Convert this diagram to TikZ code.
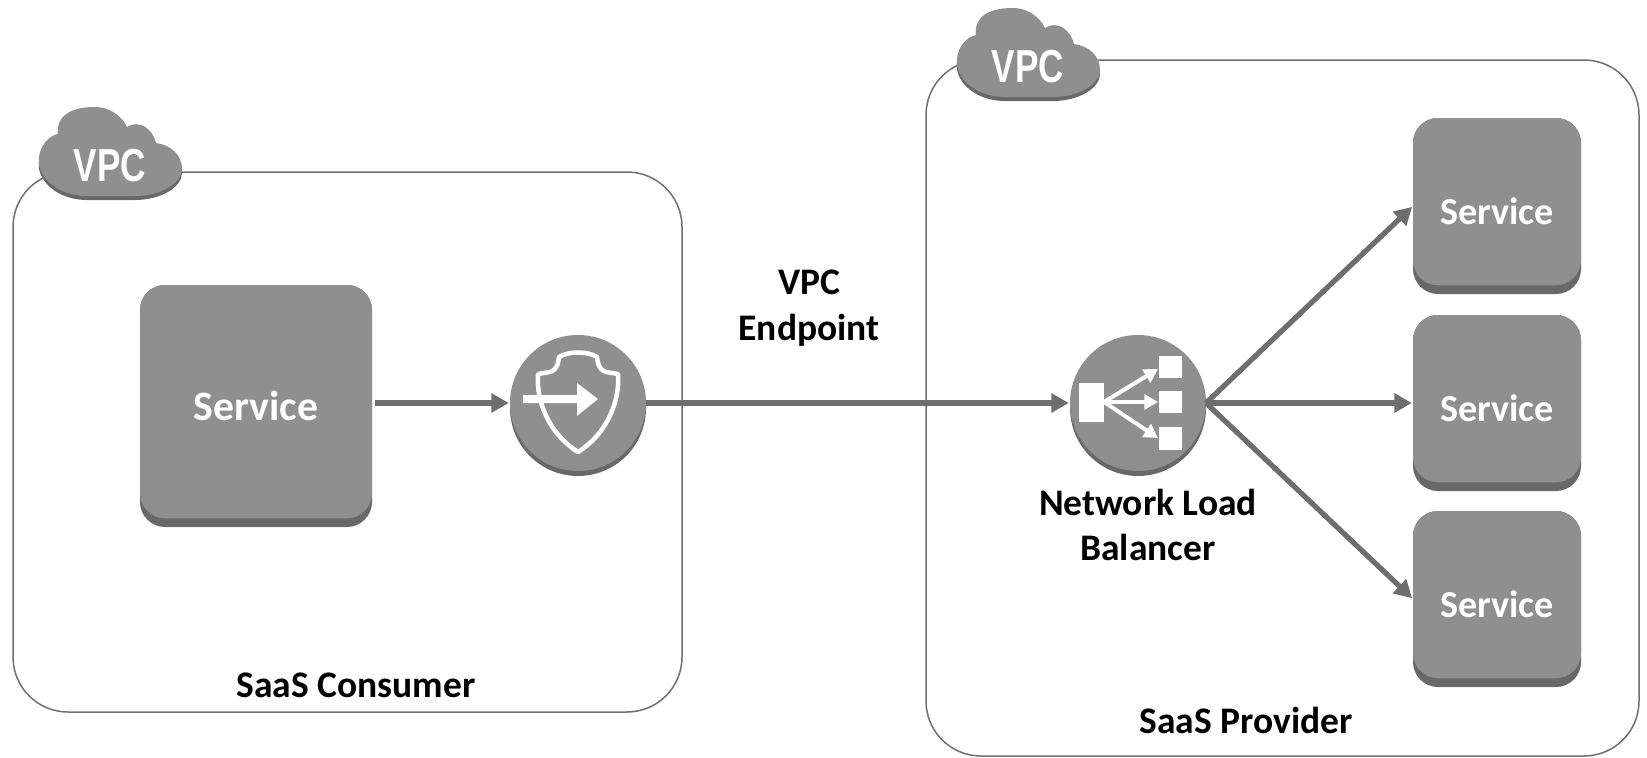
\documentclass[tikz,border=0pt]{standalone}
\usepackage{graphicx}
\usepackage{fontspec}
\setmainfont{Carlito}
\newfontfamily\vpcfont{Liberation Sans}
\usetikzlibrary{arrows.meta,shadows}
\definecolor{svcgray}{HTML}{8F8F8F}
\definecolor{svcdark}{HTML}{686868}
\definecolor{flowgray}{HTML}{6E6E6E}
\definecolor{boxline}{HTML}{707070}
\tikzset{
  vpcbox/.style={draw=boxline,line width=1.2pt,rounded corners=44pt,fill=white},
  svcbox/.style={fill=svcdark,rounded corners=20pt,text=white,font=\fontsize{33.5}{36}\selectfont\bfseries,
    path picture={\fill[svcgray,rounded corners=20pt] (path picture bounding box.north west) rectangle ([yshift=7pt]path picture bounding box.south east);}},
  svcsmall/.style={svcbox,minimum width=134.4pt,minimum height=140.8pt,text height=30pt,font=\fontsize{30.5}{36}\selectfont\bfseries},
  iconcircle/.style={circle,fill=svcgray,minimum size=108.8pt,general shadow={fill=svcdark,shadow yshift=-4pt}},
  flow/.style={draw=flowgray,line width=4.2pt,-{Triangle[length=14pt,width=15pt]},shorten >=1pt},
  caption/.style={align=center,font=\fontsize{30}{36.5}\selectfont\bfseries},
  vpclabel/.style={text=white,font=\vpcfont\fontsize{37}{37}\selectfont\bfseries},
}
\newcommand{\cloudshape}{(0,58) .. controls (-2,38) and (12,28) .. (19,27) .. controls (17,10) and (30,0) .. (56,0)
  .. controls (70,0) and (82,8) .. (88,20) .. controls (100,12) and (114,22) .. (117,36)
  .. controls (132,38) and (143,48) .. (143,62) .. controls (143,76) and (122,89) .. (96,89) -- (48,89)
  .. controls (24,89) and (4,76) .. (0,58) -- cycle}
\newcommand{\vpccloud}[2]{%
\begin{scope}[shift={(#1)}]
\path[fill=svcdark,yshift=3.2pt] \cloudshape;
\path[fill=svcgray] \cloudshape;
\node[vpclabel] (#2) at (71,59) {\scalebox{.76}[1]{VPC}};
\end{scope}}
\begin{document}
\begin{tikzpicture}[y=0.80pt,x=0.80pt,yscale=-1, inner sep=0pt, outer sep=0pt]
\useasboundingbox (0,0) rectangle (1647,757);

% outer boxes
\node[vpcbox,minimum width=535.2pt,minimum height=432pt] (consumer) at (347.5,442) {};
\node[vpcbox,minimum width=570.4pt,minimum height=556.8pt] (provider) at (1282.5,408) {};
\vpccloud{39,107}{consumercloud}
\vpccloud{957,8}{providercloud}

% services
\node[svcbox,minimum width=185.6pt,minimum height=193.6pt] (svcmain) at (256,406) {Service};
\node[svcsmall] (svctop) at (1497,206) {Service};
\node[svcsmall] (svcmid) at (1497,403) {Service};
\node[svcsmall] (svcbot) at (1497,599) {Service};

\node[iconcircle] (endpoint) at (578,403) {};
\node[iconcircle] (nlb) at (1138,403) {};

% shield icon
\begin{scope}[shift={(578,405)}]
\path[draw=white,line width=3.6pt,line join=round] (-40,-31) -- (-28,-33) .. controls (-20,-36) and (-20,-42) .. (-19,-48)
  .. controls (-10,-54) and (10,-54) .. (19,-48) .. controls (20,-42) and (20,-36) .. (28,-33) -- (40,-31)
  .. controls (42,-5) and (30,28) .. (0,47) .. controls (-30,28) and (-42,-5) .. (-40,-31) -- cycle;
\path[fill=white] (-55,-10) -- (-1,-10) -- (-1,-22) -- (20,-6) -- (-1,11) -- (-1,-2) -- (-55,-2) -- cycle;
\end{scope}

% balancer icon
\begin{scope}[shift={(1138,405)}]
\path[fill=white] (-59,-22) rectangle (-34,17);
\path[fill=white] (21,-49) rectangle (44,-27);
\path[fill=white] (21,-14) rectangle (44,8);
\path[fill=white] (21,22) rectangle (44,45);
\foreach \endy in {-36,-3,33}
  \draw[white,line width=3.2pt,-{Triangle[length=11pt,width=12pt]}] (-34,-3) -- (20,\endy);
\end{scope}

% arrows
\draw[flow] (svcmain.east |- endpoint.west) ++(3,0) -- (endpoint.west);
\draw[flow] (endpoint.east) -- (nlb.west);
\draw[flow] (nlb.east) -- (svctop.west);
\draw[flow] (nlb.east) -- (svcmid.west);
\draw[flow] (nlb.east) -- (svcbot.west);

% labels
\node[caption] (epname) at (809,308) {VPC\\Endpoint};
\node[caption] (nlbname) at (1148,525) {Network Load\\Balancer};
\node[caption] (consumername) at (356,685) {SaaS Consumer};
\node[caption] (providername) at (1246,720) {SaaS Provider};
\end{tikzpicture}
\end{document}
